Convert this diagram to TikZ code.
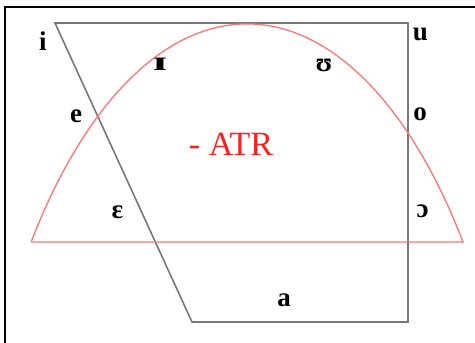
\documentclass[tikz,border=0pt]{standalone}
\usepackage{fontspec}
\setmainfont{Liberation Serif}
\usetikzlibrary{calc}
\tikzset{>=latex}
\definecolor{chartgray}{RGB}{120,120,120}
\definecolor{atrred}{RGB}{255,115,115}
\definecolor{atrtext}{RGB}{255,30,30}

\begin{document}
\begin{tikzpicture}[x=1pt, y=1pt,
  vowel/.style={font=\fontsize{27}{30}\selectfont\bfseries, inner sep=0pt},
  trap/.style={draw=chartgray, line width=1.6pt},
  atr/.style={draw=atrred, line width=1.3pt}]
\useasboundingbox (0,0) rectangle (475,343);
\draw[line width=1.4pt] (5,0) -- (5,336) -- (475,336);
\coordinate (fi) at (55,320);
\coordinate (bu) at (408,320);
\coordinate (ba) at (408,21);
\coordinate (fa) at (192,21);
\draw[trap] (fi) -- (bu) -- (ba) -- (fa) -- cycle;
\coordinate (atrL) at (31,101);
\coordinate (atrR) at (463,101);
\draw[atr] (atrL) -- (atrR) arc[start angle=39.53, end angle=140.47, x radius=280, y radius=600] -- cycle;
\node (i) at (43,302) [vowel] {i};
\node (I) at (160,278.5) [vowel] {\scalebox{1.8}[1]{ɪ}};
\node (U) at (324,277.5) [vowel] {ʊ};
\node (u) at (420.5,308.5) [vowel] {u};
\node (e) at (76,227) [vowel] {e};
\node (o) at (420,228.5) [vowel] {o};
\node (E) at (117.5,130.5) [vowel] {ɛ};
\node (O) at (422.5,132) [vowel] {ɔ};
\node (a) at (284,42.5) [vowel] {a};
\node (minusatr) at (231,199) [text=atrtext, font=\fontsize{34}{36}\selectfont] {- ATR};
\end{tikzpicture}
\end{document}
